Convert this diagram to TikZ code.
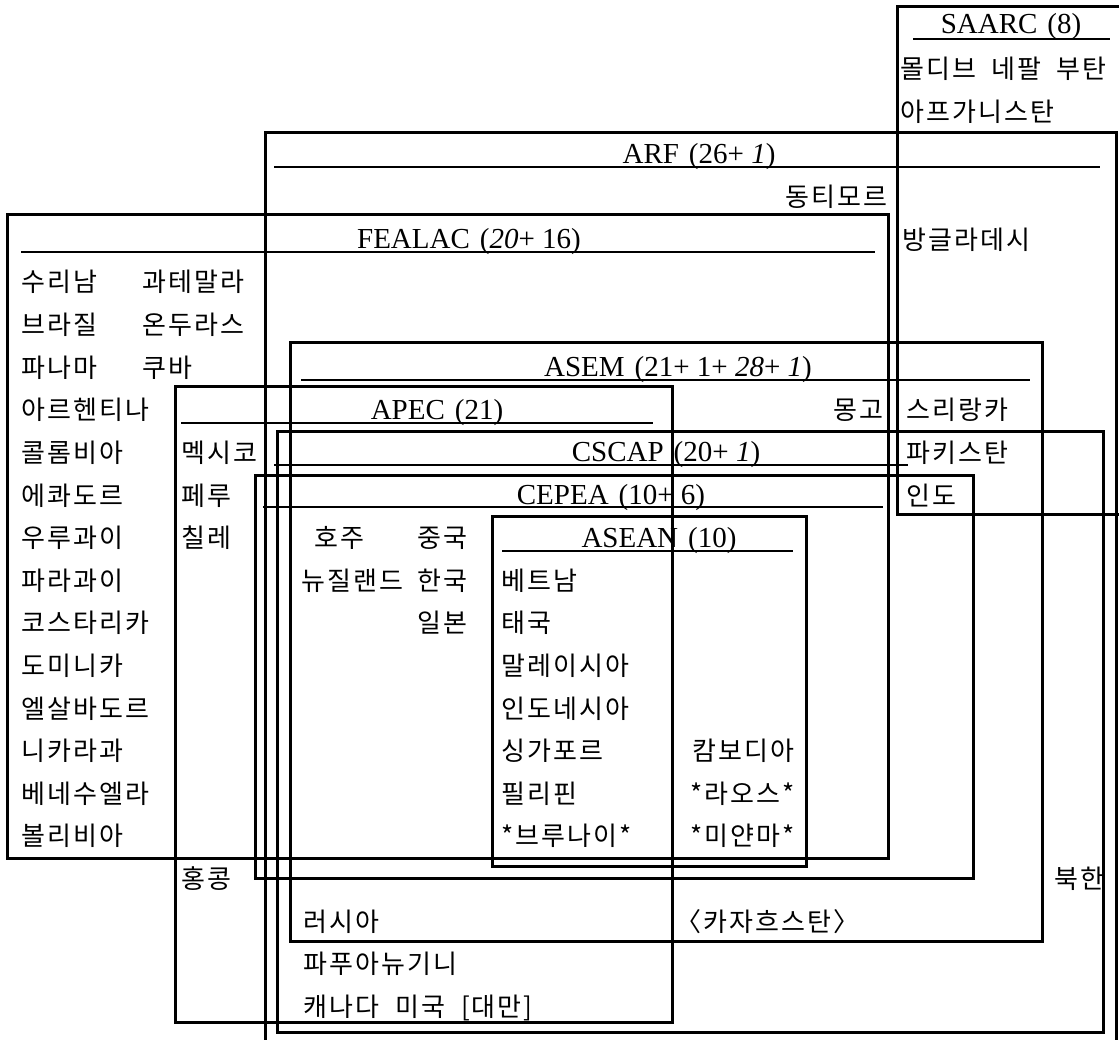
\documentclass[tikz,border=0pt]{standalone}
\usepackage{fontspec}
\setmainfont{Liberation Serif}
\newfontfamily\kr{Noto Sans CJK KR}[LetterSpace=8]
\tikzset{
  grp/.style={line width=3pt, line join=miter},
  uline/.style={line width=1.3pt},
  ko/.style={font=\kr\fontsize{26}{26}\selectfont, inner sep=0pt, text height=20pt, text depth=0pt, anchor=west},
  koR/.style={ko, anchor=east},
  ttl/.style={font=\fontsize{29}{29}\selectfont, inner sep=0pt, text height=19pt, text depth=0pt, anchor=center},
}
\begin{document}
\begin{tikzpicture}[x=1pt,y=-1pt]
\useasboundingbox (0,0) rectangle (1119,1040);
\clip (0,0) rectangle (1119,1040);
% ---------- titles ----------
\node[ttl] (tSAARC) at (1011,24) {SAARC\hspace{10pt}(8)};
\node[ttl] (tARF) at (699,154) {ARF\hspace{10pt}(26+ \textit{1})};
\node[ttl] (tFEALAC) at (469,239) {FEALAC\hspace{10pt}(\textit{20}+ 16)};
\node[ttl] (tASEM) at (678,367) {ASEM\hspace{10pt}(21+ 1+ \textit{28}+ \textit{1})};
\node[ttl] (tAPEC) at (437,410) {APEC\hspace{10pt}(21)};
\node[ttl] (tCSCAP) at (666,452) {CSCAP\hspace{10pt}(20+ \textit{1})};
\node[ttl] (tCEPEA) at (611,495) {CEPEA\hspace{10pt}(10+ 6)};
\node[ttl] (tASEAN) at (659,538) {ASEAN\hspace{10pt}(10)};
% ---------- FEALAC ----------
\node[ko] (f1) at (21,282) {수리남};
\node[ko] (f2) at (21,324.6) {브라질};
\node[ko] (f3) at (21,367.2) {파나마};
\node[ko] (f4) at (21,409.8) {아르헨티나};
\node[ko] (f5) at (21,452.4) {콜롬비아};
\node[ko] (f6) at (21,495) {에콰도르};
\node[ko] (f7) at (21,537.6) {우루과이};
\node[ko] (f8) at (21,580.2) {파라과이};
\node[ko] (f9) at (21,622.8) {코스타리카};
\node[ko] (f10) at (21,665.4) {도미니카};
\node[ko] (f11) at (21,708) {엘살바도르};
\node[ko] (f12) at (21,750.6) {니카라과};
\node[ko] (f13) at (21,793.2) {베네수엘라};
\node[ko] (f14) at (21,835.8) {볼리비아};
\node[ko] (f15) at (142,282) {과테말라};
\node[ko] (f16) at (142,324.6) {온두라스};
\node[ko] (f17) at (142,367.2) {쿠바};
% ---------- APEC ----------
\node[ko] (a1) at (181,452.4) {멕시코};
\node[ko] (a2) at (181,495) {페루};
\node[ko] (a3) at (181,537.6) {칠레};
\node[ko] (a4) at (181,878.4) {홍콩};
% ---------- CEPEA ----------
\node[ko] (c1) at (314,537.6) {호주};
\node[ko] (c2) at (301,580.2) {뉴질랜드};
\node[koR] (c3) at (468,537.6) {중국};
\node[koR] (c4) at (468,580.2) {한국};
\node[koR] (c5) at (468,622.8) {일본};
% ---------- ASEAN ----------
\node[ko] (s1) at (501,580.2) {베트남};
\node[ko] (s2) at (501,622.8) {태국};
\node[ko] (s3) at (501,665.4) {말레이시아};
\node[ko] (s4) at (501,708) {인도네시아};
\node[ko] (s5) at (501,750.6) {싱가포르};
\node[ko] (s6) at (501,793.2) {필리핀};
\node[ko] (s7) at (501,835.8) {*브루나이*};
\node[koR] (s8) at (795,750.6) {캄보디아};
\node[koR] (s9) at (795,793.2) {*라오스*};
\node[koR] (s10) at (795,835.8) {*미얀마*};
% ---------- ASEM ----------
\node[koR] (m1) at (884,409.8) {몽고};
\node[ko] (m2) at (303,921) {러시아};
\node[ko] (m3) at (675,921) {〈카자흐스탄〉};
% ---------- ARF ----------
\node[koR] (r1) at (888,196.8) {동티모르};
\node[ko] (r2) at (303,963.6) {파푸아뉴기니};
\node[ko] (r3) at (303,1006.2) {캐나다\hspace{16pt}미국\hspace{16pt}[대만]};
\node[koR] (r4) at (1105,878.4) {북한};
% ---------- SAARC ----------
\node[ko] (k1) at (900,69) {몰디브\hspace{15pt}네팔\hspace{15pt}부탄};
\node[ko] (k2) at (900,111.6) {아프가니스탄};
\node[ko] (k3) at (902,239.4) {방글라데시};
\node[ko] (k4) at (906,409.8) {스리랑카};
\node[ko] (k5) at (906,452.4) {파키스탄};
\node[ko] (k6) at (906,495) {인도};
% ---------- underlines ----------
\draw[uline] (913,39) -- (1110,39);
\draw[uline] (274,167) -- (1100,167);
\draw[uline] (21,252) -- (875,252);
\draw[uline] (301,380) -- (1030,380);
\draw[uline] (181,423) -- (653,423);
\draw[uline] (274,465) -- (908,465);
\draw[uline] (263,507) -- (883,507);
\draw[uline] (502,551) -- (793,551);
% ---------- boxes ----------
\draw[grp] (897,7) rectangle (1125,514);   % SAARC
\draw[grp] (265,133) rectangle (1116,1070); % ARF
\draw[grp] (7,215) rectangle (888,858);    % FEALAC
\draw[grp] (290,343) rectangle (1042,941); % ASEM
\draw[grp] (175,387) rectangle (672,1022); % APEC
\draw[grp] (277,431) rectangle (1103,1032);% CSCAP
\draw[grp] (255,475) rectangle (973,878);  % CEPEA
\draw[grp] (492,516) rectangle (806,866);  % ASEAN
\end{tikzpicture}
\end{document}
